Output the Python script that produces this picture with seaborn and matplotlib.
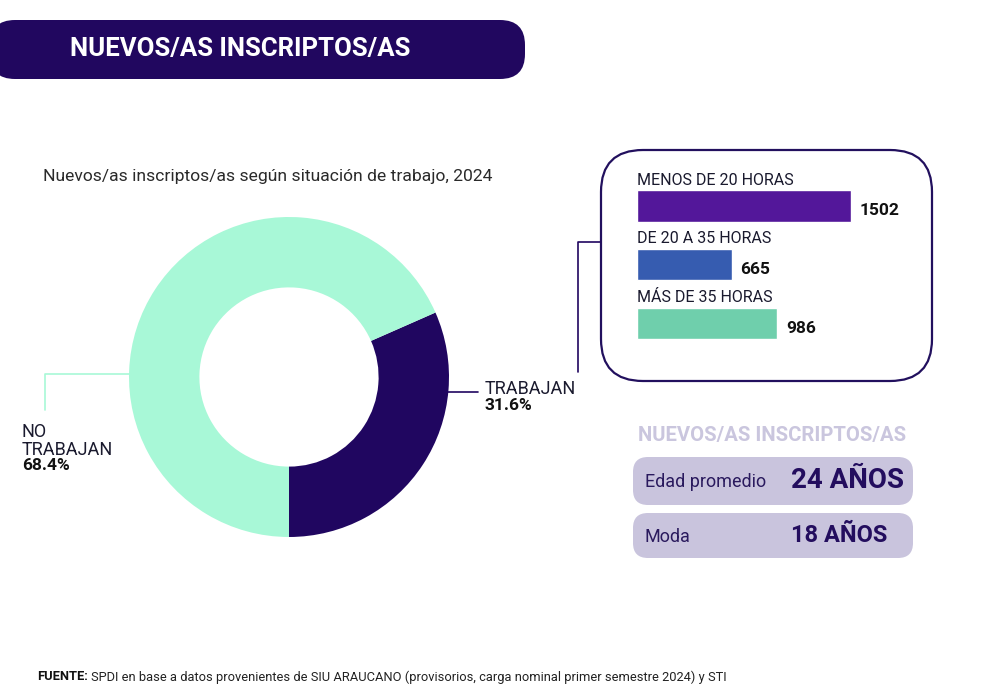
import pandas as pd
import seaborn as sns
import matplotlib.pyplot as plt
from matplotlib.patches import FancyBboxPatch

# datos de la dona
situacion = ['TRABAJAN', 'NO\nTRABAJAN']
porcentaje = [31.6, 68.4]
colores_dona = ['#200660', '#a8f8d7']

# datos de las barras (horas de trabajo)
horas = ['MENOS DE 20 HORAS', 'DE 20 A 35 HORAS', 'MÁS DE 35 HORAS']
cantidad = [1502, 665, 986]
colores_barras = ['#53179a', '#365cb0', '#6fcfac']

# indicadores de edad
indicadores = ['Edad promedio', 'Moda']
edades = ['24 AÑOS', '18 AÑOS']

titulo = 'NUEVOS/AS INSCRIPTOS/AS'
subtitulo = 'Nuevos/as inscriptos/as según situación de trabajo, 2024'
fuente = ('SPDI en base a datos provenientes de SIU ARAUCANO '
          '(provisorios, carga nominal primer semestre 2024) y STI')

sns.set_theme(style='white')
plt.rcParams['font.family'] = ['Roboto', 'DejaVu Sans']

W, H = 1003, 700
fig = plt.figure(figsize=(W / 100, H / 100), dpi=100)

# lienzo de fondo en pixeles (y hacia abajo)
bg = fig.add_axes([0, 0, 1, 1])
bg.set_xlim(0, W)
bg.set_ylim(H, 0)
bg.axis('off')

violeta = '#21075f'
texto = '#1a1a2e'

# banner del titulo
bg.add_patch(FancyBboxPatch((-10, 20), 535, 59, boxstyle='round,pad=0,rounding_size=25',
                            fc=violeta, ec='none'))
bg.text(70, 49, titulo, color='white', fontsize=18.5, fontweight='bold', va='center')

bg.text(43, 176, subtitulo, fontsize=12.6, color='#2a2a2a', va='center')

# dona
ax_p = fig.add_axes([129 / W, 1 - 537 / H, 320 / W, 320 / H])
ax_p.pie(porcentaje, colors=colores_dona, startangle=-90, counterclock=True,
         wedgeprops=dict(width=0.44, edgecolor='none'))
ax_p.set_xlim(-1, 1)
ax_p.set_ylim(-1, 1)
ax_p.set_aspect('equal')

# lineas guia y etiquetas
bg.plot([446, 478], [392, 392], color=colores_dona[0], lw=1.2)
bg.plot([600, 578, 578], [242, 242, 372], color=colores_dona[0], lw=1.2)
bg.text(485, 389, situacion[0], fontsize=13, color=texto, va='center')
bg.text(485, 406, f'{porcentaje[0]:.1f}%', fontsize=12.5, fontweight='bold', color='#111111', va='center')

bg.plot([132, 45, 45], [374, 374, 410], color=colores_dona[1], lw=1.2)
bg.text(22, 441, situacion[1], fontsize=13, color=texto, va='center', linespacing=0.95)
bg.text(22, 466, f'{porcentaje[1]:.1f}%', fontsize=12.5, fontweight='bold', color='#111111', va='center')

# marco de las barras
bg.add_patch(FancyBboxPatch((601, 150), 331, 231, boxstyle='round,pad=0,rounding_size=42',
                            fc='white', ec='#22105e', lw=1.6))

# barras
ax_b = fig.add_axes([637 / W, 1 - 353.1 / H, 280 / W, (353.1 - 176.6) / H])
ax_b.patch.set_visible(False)
df = pd.DataFrame({'horas': horas, 'cantidad': cantidad})
sns.barplot(data=df, x='cantidad', y='horas', hue='horas', palette=colores_barras,
            orient='h', width=0.53, saturation=1, legend=False, ax=ax_b)
ax_b.set_xlim(0, 1502 * 280 / 214)
ax_b.set_ylim(2.5, -0.5)
ax_b.axis('off')
for i, (h, c) in enumerate(zip(horas, cantidad)):
    ax_b.text(0, i - 0.44, h, fontsize=11.5, color=texto, va='center')
    ax_b.text(c + 60, i + 0.08, str(c), fontsize=12.5, fontweight='bold', color='#111111', va='center')

# indicadores de edad
bg.text(772, 436, titulo, fontsize=14.6, fontweight='bold', color='#cac6de', ha='center', va='center')
cajas = [(457, 48, 20), (513, 45, 17)]
for (y0, alto, fs), ind, ed in zip(cajas, indicadores, edades):
    bg.add_patch(FancyBboxPatch((633, y0), 280, alto, boxstyle='round,pad=0,rounding_size=15',
                                fc='#c9c4dd', ec='none'))
    yc = y0 + alto / 2
    bg.text(645, yc + 1, ind, fontsize=13, color='#2a1a5e', va='center')
    bg.text(791, yc, ed, fontsize=fs, fontweight='bold', color='#230d5e', va='center')

# fuente
t = bg.text(37, 677, 'FUENTE:', fontsize=9.3, fontweight='bold', color='#111111', va='center')
fig.canvas.draw()
ext = t.get_window_extent()
bg.text(37 + ext.width + 3, 677, fuente, fontsize=9.3, color='#222222', va='center')

fig.savefig('out.png', dpi=100)
